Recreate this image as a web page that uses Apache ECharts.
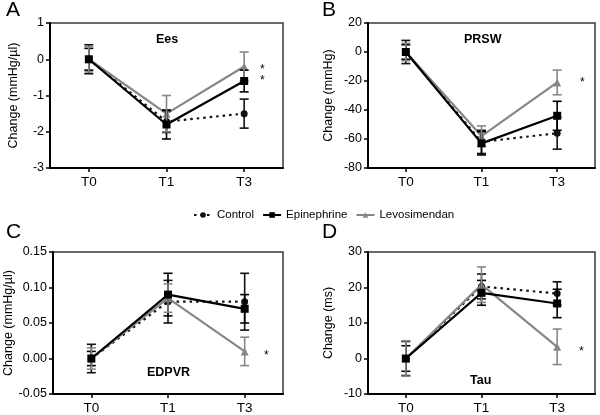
<!DOCTYPE html>
<html><head><meta charset="utf-8">
<script src="https://cdn.jsdelivr.net/npm/echarts@6/dist/echarts.min.js"></script>
<style>html,body{margin:0;padding:0;background:#fff}#c{width:600px;height:415px}</style>
</head><body><div id="c"></div>
<script>
const categories = ['T0', 'T1', 'T3'];
const seriesNames = ['Control', 'Epinephrine', 'Levosimendan'];

// Ees (mmHg/µl)
const eesControl = [0, -1.72, -1.5];
const eesControlErr = [0.4, 0.3, 0.4];
const eesEpi = [0, -1.8, -0.6];
const eesEpiErr = [0.3, 0.4, 0.3];
const eesLevo = [0, -1.5, -0.2];
const eesLevoErr = [0.35, 0.5, 0.4];

// PRSW (mmHg)
const prswControl = [0, -62, -56];
const prswControlErr = [8, 8, 11];
const prswEpi = [0, -63, -44];
const prswEpiErr = [5, 8, 10];
const prswLevo = [0, -58, -21];
const prswLevoErr = [6, 7, 8.5];

// EDPVR (mmHg/µl)
const edpvrControl = [0, 0.08, 0.08];
const edpvrControlErr = [0.02, 0.03, 0.04];
const edpvrEpi = [0, 0.09, 0.07];
const edpvrEpiErr = [0.01, 0.03, 0.02];
const edpvrLevo = [0, 0.085, 0.01];
const edpvrLevoErr = [0.015, 0.02, 0.02];

// Tau (ms)
const tauControl = [0, 20.3, 18.3];
const tauControlErr = [4.8, 3.5, 3.3];
const tauEpi = [0, 18.5, 15.5];
const tauEpiErr = [3.6, 3.5, 4];
const tauLevo = [0, 20.8, 3.3];
const tauLevoErr = [5, 5, 5];

const yTicksA = { min: -3, max: 1, interval: 1 };
const yTicksB = { min: -80, max: 20, interval: 20 };
const yTicksC = { min: -0.05, max: 0.15, interval: 0.05 };
const yTicksD = { min: -10, max: 30, interval: 10 };

const FONT = "'Liberation Sans', Arial, Helvetica, sans-serif";
const styles = {
  Control: { color: '#111', type: [2.5, 4], symbol: 'circle', size: 7 },
  Epinephrine: { color: '#000', type: 'solid', symbol: 'rect', size: 8 },
  Levosimendan: { color: '#878787', type: 'solid', symbol: 'triangle', size: 8 }
};

const panels = [
  { grid: { left: 50, top: 23, width: 233, height: 145 }, y: yTicksA, name: 'Change (mmHg/µl)', gap: 30, dec: 0,
    data: [[eesControl, eesControlErr], [eesEpi, eesEpiErr], [eesLevo, eesLevoErr]] },
  { grid: { left: 368, top: 23, width: 227, height: 145 }, y: yTicksB, name: 'Change (mmHg)', gap: 33, dec: 0,
    data: [[prswControl, prswControlErr], [prswEpi, prswEpiErr], [prswLevo, prswLevoErr]] },
  { grid: { left: 53, top: 252, width: 230, height: 144 }, y: yTicksC, name: 'Change (mmHg/µl)', gap: 34, dec: 2,
    data: [[edpvrControl, edpvrControlErr], [edpvrEpi, edpvrEpiErr], [edpvrLevo, edpvrLevoErr]] },
  { grid: { left: 368, top: 252, width: 227, height: 145 }, y: yTicksD, name: 'Change (ms)', gap: 33, dec: 0,
    data: [[tauControl, tauControlErr], [tauEpi, tauEpiErr], [tauLevo, tauLevoErr]] }
];

const grids = [], xAxes = [], yAxes = [], series = [];
panels.forEach((p, i) => {
  grids.push(Object.assign({ show: true, borderColor: '#3a3a3a', borderWidth: 1.5, backgroundColor: 'transparent' }, p.grid));
  xAxes.push({
    type: 'category', gridIndex: i, data: categories,
    axisLine: { onZero: false, lineStyle: { color: '#000', width: 2 } },
    axisTick: { show: true, alignWithLabel: true, length: 4, lineStyle: { color: '#000', width: 1.5 } },
    axisLabel: { color: '#000', fontSize: 13.5, fontFamily: FONT, margin: 7 },
    splitLine: { show: false }
  });
  yAxes.push({
    type: 'value', gridIndex: i, min: p.y.min, max: p.y.max, interval: p.y.interval,
    axisLine: { show: true, lineStyle: { color: '#000', width: 2 } },
    axisTick: { show: true, length: 4, lineStyle: { color: '#000', width: 1.5 } },
    axisLabel: { color: '#000', fontSize: 12.5, fontFamily: FONT, margin: 6,
      formatter: v => (Math.abs(v) < 1e-9 ? 0 : v).toFixed(p.dec) },
    splitLine: { show: false },
    name: p.name, nameLocation: 'middle', nameGap: p.gap,
    nameTextStyle: { color: '#000', fontSize: 12.5, fontFamily: FONT }
  });
  p.data.forEach((d, k) => {
    const nm = seriesNames[k];
    const st = styles[nm];
    series.push({
      name: nm, type: 'line', xAxisIndex: i, yAxisIndex: i,
      data: d[0], symbol: st.symbol, symbolSize: st.size, showSymbol: true,
      lineStyle: { color: st.color, width: 2.2, type: st.type },
      itemStyle: { color: st.color }, z: 3 + (k === 1 ? 2 : 0), animation: false
    });
  });
  p.data.forEach((d, k) => {
    const st = styles[seriesNames[k]];
    series.push({
      type: 'custom', xAxisIndex: i, yAxisIndex: i, z: 4, animation: false,
      data: d[0].map((v, j) => [j, v, d[1][j]]),
      encode: { x: 0, y: 1 },
      renderItem: (params, api) => {
        const x = api.value(0), v = api.value(1), e = api.value(2);
        const hi = api.coord([x, v + e]);
        const lo = api.coord([x, v - e]);
        const h = 4.5;
        const s = { stroke: st.color, lineWidth: 1.6 };
        return { type: 'group', children: [
          { type: 'line', shape: { x1: hi[0], y1: hi[1], x2: lo[0], y2: lo[1] }, style: s },
          { type: 'line', shape: { x1: hi[0] - h, y1: hi[1], x2: hi[0] + h, y2: hi[1] }, style: s },
          { type: 'line', shape: { x1: lo[0] - h, y1: lo[1], x2: lo[0] + h, y2: lo[1] }, style: s }
        ] };
      }
    });
  });
});

const txt = (t, x, y, size, weight, align) => ({
  type: 'text', left: x, top: y,
  style: { text: t, fontSize: size, fontWeight: weight || 'normal', fill: '#000', fontFamily: FONT, textAlign: align || 'left' }
});

const option = {
  animation: false,
  grid: grids, xAxis: xAxes, yAxis: yAxes, series: series,
  legend: {
    data: seriesNames, top: 204, left: 188, itemWidth: 18, itemHeight: 7, itemGap: 8,
    textStyle: { color: '#000', fontSize: 11.5, fontFamily: FONT }
  },
  graphic: [
    txt('A', 6, 0, 21), txt('B', 322, 0, 21), txt('C', 6, 222, 21), txt('D', 322, 222, 21),
    txt('Ees', 156, 33, 12.5, 'bold'), txt('PRSW', 464, 33, 12.5, 'bold'),
    txt('EDPVR', 147, 366, 12.5, 'bold'), txt('Tau', 470, 374, 12.5, 'bold'),
    txt('*', 260, 64, 12), txt('*', 260, 75, 12), txt('*', 580, 77, 12),
    txt('*', 264, 350, 12), txt('*', 579, 346, 12)
  ]
};
echarts.init(document.getElementById('c'), null, { renderer: 'canvas' }).setOption(option);
</script></body></html>
